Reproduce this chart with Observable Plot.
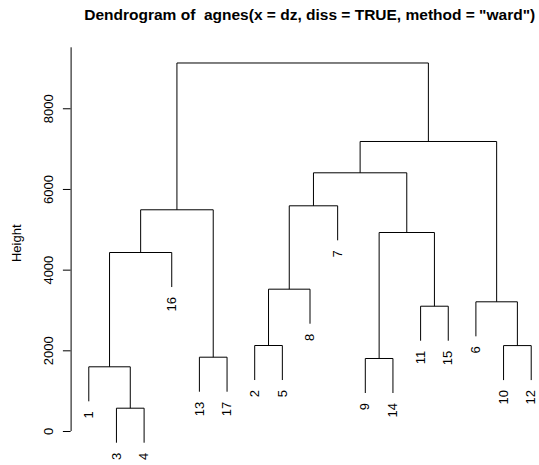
<!DOCTYPE html>
<html><head><meta charset="utf-8">
<script src="https://cdn.jsdelivr.net/npm/d3@7"></script>
<script src="https://cdn.jsdelivr.net/npm/@observablehq/plot@0.6"></script>
<style>
body{margin:0;background:#fff;font-family:"Liberation Sans",Arial,Helvetica,sans-serif;width:539px;height:465px;overflow:hidden}
#title{height:40px;position:relative}
#title span{position:absolute;left:309.7px;top:6.9px;transform:translateX(-50%);font-weight:bold;font-size:15.5px;line-height:1;white-space:pre;color:#000}
#chart svg{display:block}
</style></head><body>
<div id="title"><span>Dendrogram of  agnes(x = dz, diss = TRUE, method = "ward")</span></div>
<div id="chart"></div>
<script>
// leaf labels in plotting order
const leafOrder = [1, 3, 4, 16, 13, 17, 2, 5, 8, 7, 9, 14, 11, 15, 6, 10, 12];
// merges (R style: negative = observation, positive = earlier merge step)
const mergeLeft  = [-3, -1, -9, -13, -10, -2, -11, -6, 6, 2, 3, 10, 9, 13, 14, 12];
const mergeRight = [-4, 1, -14, -17, -12, -5, -15, 5, -8, -16, 7, 4, -7, 11, 8, 15];
const mergeHeight = [578, 1604, 1810, 1842, 2130, 2132, 3106, 3215, 3528, 4437, 4933, 5496, 5595, 6413, 7189, 9135];
const yTicks = [0, 2000, 4000, 6000, 8000];

const hang = 0.1 * (d3.max(mergeHeight) - d3.min(mergeHeight));
const leafPos = new Map(leafOrder.map((l, i) => [l, i + 1]));
const mergeX = [];
const segs = [];
const leaves = [];
function child(c, h) {
  if (c < 0) {
    const x = leafPos.get(-c), y = h - hang;
    leaves.push({label: String(-c), x, y});
    return {x, y};
  }
  return {x: mergeX[c - 1], y: mergeHeight[c - 1]};
}
mergeHeight.forEach((h, k) => {
  const a = child(mergeLeft[k], h), b = child(mergeRight[k], h);
  mergeX[k] = (a.x + b.x) / 2;
  segs.push({x1: a.x, y1: a.y, x2: a.x, y2: h});
  segs.push({x1: b.x, y1: b.y, x2: b.x, y2: h});
  segs.push({x1: a.x, y1: h, x2: b.x, y2: h});
});

const n = leafOrder.length;
const xDomain = [1 - 0.04 * (n - 1), n + 0.04 * (n - 1)];
const yLo = d3.min(leaves, d => d.y), yHi = d3.max(mergeHeight);
const yDomain = [yLo - 0.04 * (yHi - yLo), yHi + 0.04 * (yHi - yLo)];

const W = 539, H = 425, mL = 70.6, mT = 7.3, mB = 7.6;
const chart = Plot.plot({
  width: W, height: H,
  marginLeft: mL, marginRight: 0, marginTop: mT, marginBottom: mB,
  style: {fontFamily: '"Liberation Sans", Arial, Helvetica, sans-serif', fontSize: "13px", color: "#000", background: "#fff"},
  x: {domain: xDomain, range: [mL, 548.4], axis: null},
  y: {domain: yDomain, range: [H - mB, mT], axis: null},
  marks: [
    Plot.ruleX([xDomain[0]], {y1: 0, y2: yDomain[1], stroke: "#000", strokeWidth: 1}),
    Plot.axisY(yTicks, {anchor: "left", tickSize: 7.7, tickPadding: 10, tickRotate: -90, tickFormat: d => String(d), label: null, fontSize: 13, stroke: "#000", fill: "#000"}),
    Plot.text(["Height"], {frameAnchor: "left", rotate: -90, dx: -54.6, dy: 9.2, fontSize: 13, fill: "#000"}),
    Plot.link(segs, {x1: "x1", y1: "y1", x2: "x2", y2: "y2", stroke: "#000", strokeWidth: 1}),
    Plot.text(leaves, {x: "x", y: "y", text: "label", rotate: -90, textAnchor: "end", dy: 10, fontSize: 13, fill: "#000"})
  ]
});
document.getElementById("chart").appendChild(chart);
</script>
</body></html>
